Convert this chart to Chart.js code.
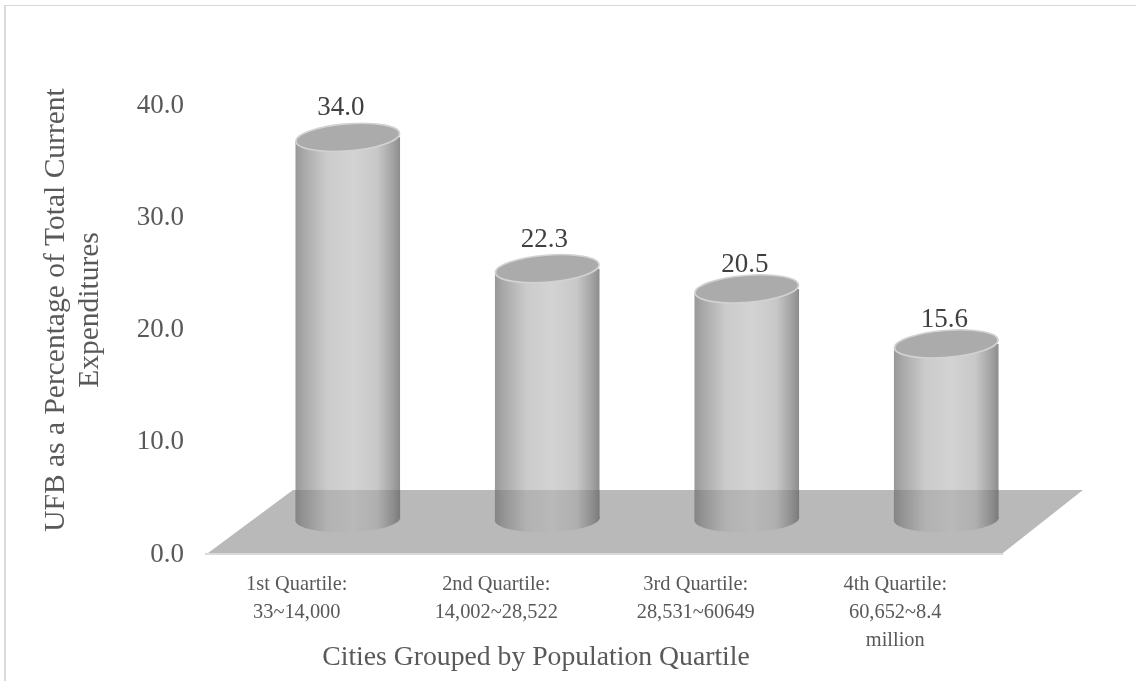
<!DOCTYPE html>
<html>
<head>
<meta charset="utf-8">
<title>UFB by population quartile</title>
<script src="https://cdn.jsdelivr.net/npm/chart.js@4"></script>
<style>
    html, body { margin: 0; padding: 0; background: #fff; }
    canvas { display: block; }
</style>
</head>
<body>
<canvas id="ufbChart" width="1136" height="681"></canvas>
<script>
const quartiles = [
    ['1st Quartile:', '33~14,000'],
    ['2nd Quartile:', '14,002~28,522'],
    ['3rd Quartile:', '28,531~60649'],
    ['4th Quartile:', '60,652~8.4', 'million']
];
const ufbShare = [34.0, 22.3, 20.5, 15.6];
const yTitle = ['UFB as a Percentage of Total Current', 'Expenditures'];
const xTitle = 'Cities Grouped by Population Quartile';

const serif = '"Liberation Serif", "Times New Roman", serif';
const barShare = 0.526;

// the columns sit back on the floor, up and to the right of the axis line
const depthX = 43;
const depthY = -34;
const capHeight = 13.5;
const capTilt = -0.08;

// value labels were placed by hand, so they don't all sit the same way over the column
const labelShift = [-7, -3, -2, -2];
const labelLift = [29, 29, 24, 24];

function columnGradient(ctx, left, right) {
    const g = ctx.createLinearGradient(left, 0, right, 0);
    g.addColorStop(0, '#979797');
    g.addColorStop(0.08, '#a8a8a8');
    g.addColorStop(0.3, '#cbcbcb');
    g.addColorStop(0.55, '#d3d3d3');
    g.addColorStop(0.78, '#c8c8c8');
    g.addColorStop(0.93, '#a2a2a2');
    g.addColorStop(1, '#8c8c8c');
    return g;
}

const cylinders = {
    id: 'cylinders',
    beforeDatasetsDraw(chart) {
        const { ctx, chartArea: area } = chart;
        // floor
        ctx.save();
        ctx.beginPath();
        ctx.moveTo(area.left + 3, area.bottom);
        ctx.lineTo(area.left + 88, area.bottom - 63);
        ctx.lineTo(area.right + 80, area.bottom - 63);
        ctx.lineTo(area.right, area.bottom);
        ctx.closePath();
        ctx.fillStyle = '#b9b9b9';
        ctx.fill();
        ctx.fillStyle = '#d9d9d9';
        ctx.fillRect(area.left, area.bottom, area.right - area.left, 2);
        // round bottoms of the columns
        ctx.translate(depthX, depthY);
        chart.getDatasetMeta(0).data.forEach((bar) => {
            ctx.beginPath();
            ctx.ellipse(bar.x, bar.base, bar.width / 2, capHeight, capTilt / 3, 0, Math.PI * 2);
            ctx.fillStyle = columnGradient(ctx, bar.x - bar.width / 2, bar.x + bar.width / 2);
            ctx.fill();
        });
        ctx.restore();
    },
    beforeDatasetDraw(chart) {
        const { ctx } = chart;
        ctx.save();
        ctx.translate(depthX, depthY);
        ctx.beginPath();
        chart.getDatasetMeta(0).data.forEach((bar) => {
            const rise = Math.sin(capTilt) * bar.width / 2;
            ctx.moveTo(bar.x - bar.width / 2, bar.y - rise);
            ctx.lineTo(bar.x + bar.width / 2, bar.y + rise);
            ctx.lineTo(bar.x + bar.width / 2, bar.base);
            ctx.lineTo(bar.x - bar.width / 2, bar.base);
            ctx.closePath();
        });
        ctx.clip();
    },
    afterDatasetDraw(chart) {
        chart.ctx.restore();
    },
    afterDatasetsDraw(chart) {
        const { ctx, chartArea: area } = chart;
        const floorBack = area.bottom - 63;
        ctx.save();
        ctx.translate(depthX, depthY);
        chart.getDatasetMeta(0).data.forEach((bar, i) => {
            // top of the column
            ctx.beginPath();
            ctx.ellipse(bar.x, bar.y, bar.width / 2 - 0.5, capHeight, capTilt, 0, Math.PI * 2);
            ctx.fillStyle = '#ababab';
            ctx.fill();
            ctx.strokeStyle = '#d2d2d2';
            ctx.lineWidth = 1.6;
            ctx.stroke();

            // part of the column standing on the floor is shaded
            const left = bar.x - bar.width / 2;
            ctx.beginPath();
            ctx.rect(left, floorBack - depthY, bar.width, bar.base - floorBack + depthY);
            ctx.ellipse(bar.x, bar.base, bar.width / 2, capHeight, capTilt / 3, 0, Math.PI * 2);
            ctx.fillStyle = 'rgba(0, 0, 0, 0.12)';
            ctx.fill();

            // value label
            ctx.fillStyle = '#404040';
            ctx.font = '27px ' + serif;
            ctx.textAlign = 'center';
            ctx.textBaseline = 'middle';
            ctx.fillText(ufbShare[i].toFixed(1), bar.x + labelShift[i], bar.y - labelLift[i]);
        });
        ctx.restore();

        // axis titles
        ctx.save();
        ctx.fillStyle = '#595959';
        ctx.textAlign = 'center';
        ctx.textBaseline = 'middle';
        ctx.font = '27.7px ' + serif;
        ctx.fillText(xTitle, 536, 658);
        ctx.font = '29.5px ' + serif;
        ctx.translate(56, 310);
        ctx.rotate(-Math.PI / 2);
        yTitle.forEach((line, i) => ctx.fillText(line, 0, i * 34));
        ctx.restore();

        // frame, cut off on the right and at the bottom
        ctx.fillStyle = '#d9d9d9';
        ctx.fillRect(4, 5, 1132, 1);
        ctx.fillRect(4, 5, 2, 676);
    }
};

new Chart(document.getElementById('ufbChart'), {
    type: 'bar',
    plugins: [cylinders],
    data: {
        labels: quartiles,
        datasets: [{
            label: 'UFB share',
            data: ufbShare,
            barPercentage: barShare,
            categoryPercentage: 1,
            clip: false,
            backgroundColor: (c) => {
                const x = c.chart.scales.x;
                if (c.type !== 'data' || !x || !x.width) return '#c8c8c8';
                const center = x.getPixelForValue(c.dataIndex);
                const half = (x.width / quartiles.length) * barShare / 2;
                if (!isFinite(center)) return '#c8c8c8';
                return columnGradient(c.chart.ctx, center - half, center + half);
            }
        }]
    },
    options: {
        responsive: false,
        animation: false,
        layout: { padding: { top: 104, right: 133 } },
        plugins: {
            legend: { display: false },
            tooltip: { enabled: false }
        },
        scales: {
            x: {
                grid: { display: false },
                border: { display: false },
                afterFit: (scale) => { scale.height = 128; },
                ticks: {
                    color: '#595959',
                    font: { family: serif, size: 20.4, lineHeight: 1.36 },
                    maxRotation: 0,
                    autoSkip: false,
                    labelOffset: -8,
                    padding: 10
                }
            },
            y: {
                min: 0,
                max: 40,
                grid: { display: false },
                border: { display: false },
                afterFit: (scale) => { scale.width = 205; },
                ticks: {
                    stepSize: 10,
                    color: '#595959',
                    font: { family: serif, size: 27 },
                    padding: 13,
                    labelOffset: 1.5,
                    callback: (v) => v.toFixed(1)
                }
            }
        }
    }
});
</script>
</body>
</html>
